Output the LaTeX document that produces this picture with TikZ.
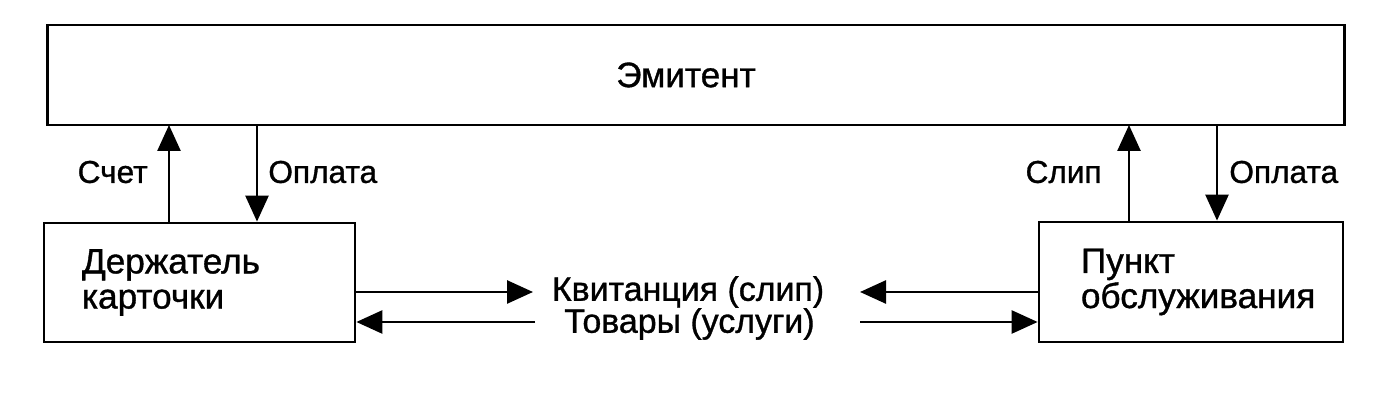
\documentclass[tikz,border=0pt]{standalone}
\usepackage{fontspec}
\setmainfont{Liberation Sans}[FakeBold=1]
\usetikzlibrary{arrows.meta,calc,positioning}

\begin{document}
\begin{tikzpicture}[x=0.02cm,y=-0.02cm,
    box/.style={draw,line width=1.6pt,inner sep=0pt},
    flow/.style={line width=1.5pt,-{Triangle[length=0.52cm,width=0.46cm]}},
    big/.style={font=\fontsize{20}{20}\selectfont,inner sep=0pt},
    mid/.style={font=\fontsize{19.3}{19.3}\selectfont,inner sep=0pt},
    small/.style={font=\fontsize{18}{18}\selectfont,inner sep=0pt}]
    \useasboundingbox (0,0) rectangle (1380,404);

    % ---- Issuer (top) ----
    \node[box,minimum width=25.96cm,minimum height=2cm] (emit) at (696,75) {};
    \node[big] (emittxt) at ($(emit.center)+(-10,0)$) {Эмитент};

    % ---- Card holder (left) ----
    \node[box,minimum width=6.22cm,minimum height=2.38cm] (hold) at (199.5,282.5) {};
    \node[big,align=left,anchor=west] (holdtxt) at ($(hold.west)+(39,0)$) {Держатель\\карточки};

    % ---- Service point (right) ----
    \node[box,minimum width=6.08cm,minimum height=2.4cm] (point) at (1191,282) {};
    \node[big,align=left,anchor=west] (pointtxt) at ($(point.west)+(43,0)$) {Пункт\\обслуживания};

    % ---- Exchange in the middle ----
    \node[mid] (kvit) at (688,292) {Квитанция (слип)};
    \node[mid] (tovar) at (689.5,324) {Товары (услуги)};
    \coordinate (kvitL) at (533,292);
    \coordinate (kvitR) at (860,292);
    \coordinate (tovarL) at (535,322);
    \coordinate (tovarR) at (860,322);
    \draw[flow] (hold.east |- kvitL) -- (kvitL);
    \draw[flow] (point.west |- kvitR) -- (kvitR);
    \draw[flow] (tovarL) -- (hold.east |- tovarL);
    \draw[flow] (tovarR) -- (point.west |- tovarR);

    % ---- Holder <-> issuer ----
    \coordinate (schetE) at (169,125);
    \coordinate (oplE) at (257,125);
    \draw[flow] (hold.north -| schetE) -- (schetE);
    \draw[flow] (oplE) -- (hold.north -| oplE);
    \node[small,anchor=east] (schet) at (148,172) {Счет};
    \node[small,anchor=west] (opl1) at (268,172) {Оплата};

    % ---- Service point <-> issuer ----
    \coordinate (slipE) at (1129,125);
    \coordinate (opl2E) at (1217,125);
    \draw[flow] (point.north -| slipE) -- (slipE);
    \draw[flow] (opl2E) -- (point.north -| opl2E);
    \node[small,anchor=east] (slip) at (1102,172) {Слип};
    \node[small,anchor=west] (opl2) at (1229,172) {Оплата};
\end{tikzpicture}
\end{document}
